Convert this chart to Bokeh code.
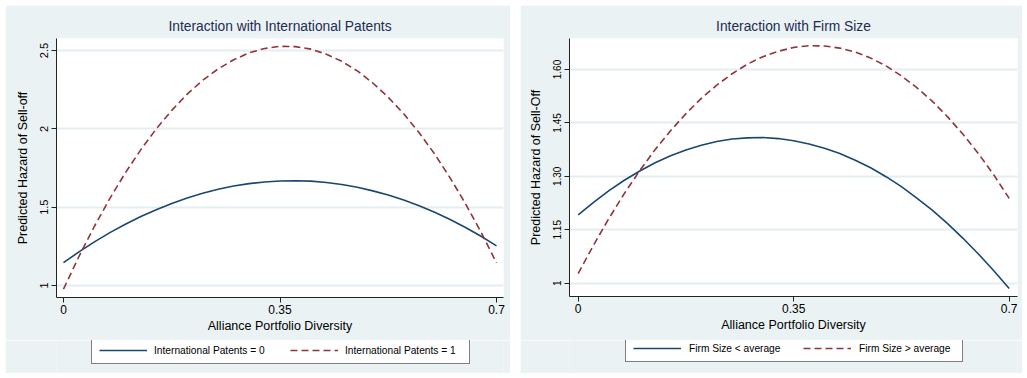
from bokeh.plotting import figure
from bokeh.models import FixedTicker, Legend, LegendItem, Range1d
from bokeh.layouts import row, column
from bokeh.embed import file_html
from bokeh.resources import INLINE

# ---- data ----
diversity = [0.0, 0.025, 0.05, 0.075, 0.10, 0.125, 0.15, 0.175, 0.20, 0.225, 0.25, 0.275, 0.30, 0.325, 0.35,
             0.375, 0.40, 0.425, 0.45, 0.475, 0.50, 0.525, 0.55, 0.575, 0.60, 0.625, 0.65, 0.675, 0.70]

patents0 = [1.146, 1.214, 1.278, 1.337, 1.391, 1.440, 1.484, 1.524, 1.559, 1.589, 1.614, 1.635, 1.650, 1.661, 1.667,
            1.669, 1.666, 1.657, 1.645, 1.627, 1.604, 1.577, 1.545, 1.509, 1.467, 1.421, 1.370, 1.314, 1.253]
patents1 = [0.977, 1.185, 1.378, 1.556, 1.719, 1.867, 2.000, 2.118, 2.222, 2.310, 2.383, 2.441, 2.485, 2.513, 2.527,
            2.525, 2.509, 2.477, 2.431, 2.370, 2.293, 2.202, 2.096, 1.975, 1.839, 1.687, 1.521, 1.340, 1.144]

size_below = [1.192, 1.227, 1.260, 1.289, 1.315, 1.338, 1.358, 1.374, 1.387, 1.398, 1.405, 1.408, 1.409, 1.406, 1.400,
              1.391, 1.379, 1.364, 1.345, 1.324, 1.299, 1.271, 1.239, 1.205, 1.167, 1.126, 1.082, 1.035, 0.985]
size_above = [1.027, 1.107, 1.182, 1.252, 1.316, 1.375, 1.428, 1.476, 1.519, 1.556, 1.588, 1.615, 1.636, 1.651, 1.662,
              1.667, 1.666, 1.660, 1.649, 1.632, 1.610, 1.582, 1.549, 1.511, 1.467, 1.418, 1.364, 1.304, 1.238]

x_ticks = [0, 0.35, 0.7]
x_tick_labels = ["0", "0.35", "0.7"]
y_ticks_left = [1, 1.5, 2, 2.5]
y_tick_labels_left = ["1", "1.5", "2", "2.5"]
y_ticks_right = [1, 1.15, 1.30, 1.45, 1.60]
y_tick_labels_right = ["1", "1.15", "1.30", "1.45", "1.60"]

titles = ["Interaction with International Patents", "Interaction with Firm Size"]
y_labels = ["Predicted Hazard of Sell-off", "Predicted Hazard of Sell-Off"]
x_label = "Alliance Portfolio Diversity"
legend_left = ["International Patents = 0", "International Patents = 1"]
legend_right = ["Firm Size < average", "Firm Size > average"]

BG = "#EAF2F3"
GRID = "#E4EEF1"
NAVY = "#1A476F"
MAROON = "#90353B"
TITLE_C = "#1E2C52"
FONT = "Liberation Sans"
LINE_W = 1.6
DASH = "7 4"


def panel(width, xr, yr, yticks, ylabels, ys, names, title, ylab, borders, ytick_size,
          legloc, leg_fmt, leg_h, margin):
    top_h = 368 - leg_h
    p = figure(width=width, height=top_h, output_backend="svg", toolbar_location=None,
               x_range=Range1d(*xr), y_range=Range1d(*yr),
               min_border_left=borders[0], min_border_right=borders[1],
               min_border_top=borders[2], min_border_bottom=borders[3])
    p.background_fill_color = "white"
    p.border_fill_color = BG
    p.outline_line_color = None

    p.title.text = title
    p.title.align = "center"
    p.title.text_font = FONT
    p.title.text_font_style = "normal"
    p.title.text_font_size = "13.8px"
    p.title.text_color = TITLE_C
    p.title.standoff = 10

    for ax in (p.xaxis[0], p.yaxis[0]):
        ax.axis_line_color = "#222222"
        ax.axis_line_width = 1
        ax.major_tick_line_color = "#222222"
        ax.major_tick_out = 5
        ax.major_tick_in = 0
        ax.minor_tick_line_color = None
        ax.major_label_text_font = FONT
        ax.major_label_text_color = "black"
        ax.axis_label_text_font = FONT
        ax.axis_label_text_font_size = "12.5px"
        ax.axis_label_text_font_style = "normal"
        ax.axis_label_text_color = "black"

    p.xaxis.ticker = FixedTicker(ticks=x_ticks)
    p.xaxis.major_label_overrides = dict(zip(x_ticks, x_tick_labels))
    p.xaxis.major_label_text_font_size = "12px"
    p.xaxis.axis_label = x_label
    p.xaxis.major_label_standoff = 2
    p.xaxis.axis_label_standoff = 2

    p.yaxis.ticker = FixedTicker(ticks=yticks)
    p.yaxis.major_label_overrides = dict(zip(yticks, ylabels))
    p.yaxis.major_label_text_font_size = ytick_size
    p.yaxis.major_label_orientation = "vertical"
    p.yaxis.axis_label = ylab
    p.yaxis.major_label_standoff = 3
    p.yaxis.axis_label_standoff = 8

    p.xgrid.grid_line_color = None
    p.ygrid.grid_line_color = GRID
    p.ygrid.grid_line_width = 2

    p.line(diversity, ys[0], line_color=NAVY, line_width=LINE_W)
    p.line(diversity, ys[1], line_color=MAROON, line_width=LINE_W, line_dash=DASH)

    # legend strip below the plot, same panel background.
    # The key renderers carry the same series but sit outside this strip's visible range.
    lg = figure(width=width, height=leg_h, output_backend="svg", toolbar_location=None,
                x_range=Range1d(*xr), y_range=Range1d(100, 101),
                min_border_left=borders[0], min_border_right=borders[1],
                min_border_top=0, min_border_bottom=0,
                x_axis_type=None, y_axis_type=None)
    lg.background_fill_color = BG
    lg.border_fill_color = BG
    lg.outline_line_color = None
    lg.xgrid.grid_line_color = None
    lg.ygrid.grid_line_color = None
    k0 = lg.line(diversity, ys[0], line_color=NAVY, line_width=LINE_W)
    k1 = lg.line(diversity, ys[1], line_color=MAROON, line_width=LINE_W, line_dash=DASH)
    leg = Legend(items=[LegendItem(label=names[0], renderers=[k0]),
                        LegendItem(label=names[1], renderers=[k1])],
                 orientation="horizontal", location=legloc)
    leg.label_text_font = FONT
    leg.label_text_font_size = "10.2px"
    leg.label_text_color = "black"
    leg.glyph_width = 48
    leg.glyph_height = 12
    leg.label_standoff = leg_fmt[0]
    leg.label_width = leg_fmt[1]
    leg.spacing = leg_fmt[2]
    leg.label_height = 12
    leg.padding = 7
    leg.margin = 0
    leg.border_line_color = "black"
    leg.border_line_width = 1
    leg.background_fill_color = "white"
    leg.background_fill_alpha = 1
    lg.add_layout(leg, "center")

    col = column(p, lg, spacing=0)
    col.margin = margin
    return col


LEG_H = 33
c1 = panel(505, (-0.0113, 0.7113), (0.923, 2.577), y_ticks_left, y_tick_labels_left,
           (patents0, patents1), legend_left, titles[0], y_labels[0],
           (51, 7, 33, 43), "11px", (35, 9), (7, 117, 19), LEG_H, (5, 0, 5, 5))
c2 = panel(502, (-0.0141, 0.7135), (0.9626, 1.687), y_ticks_right, y_tick_labels_right,
           (size_below, size_above), legend_right, titles[1], y_labels[1],
           (49, 5, 33, 44), "10px", (56, 11), (8, 96, 18), LEG_H, (5, 0, 5, 10))

layout = row(c1, c2)
open("out.html", "w").write(file_html(layout, INLINE))
